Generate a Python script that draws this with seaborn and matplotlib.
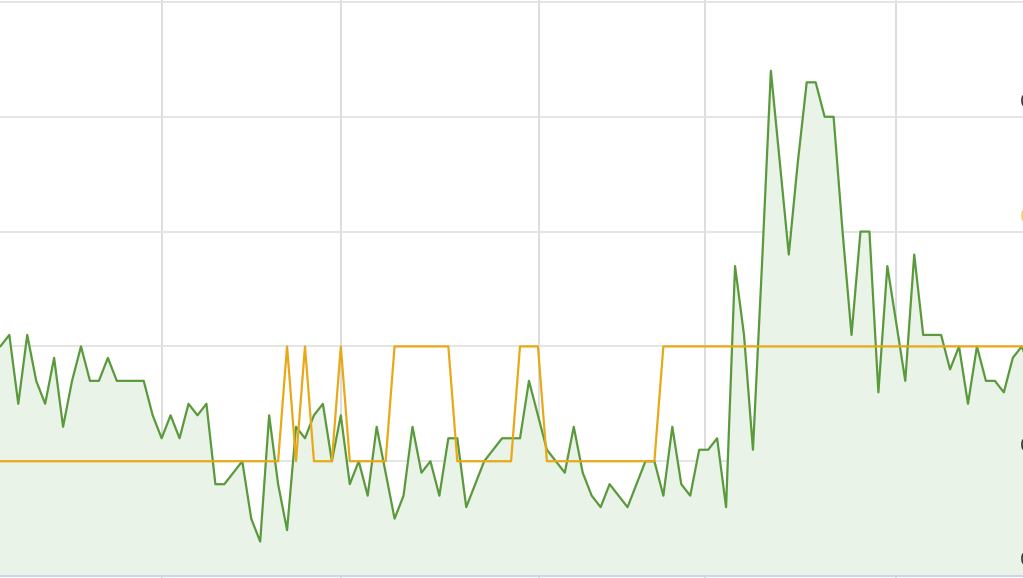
import numpy as np
import pandas as pd
import matplotlib
matplotlib.use("Agg")
import matplotlib.pyplot as plt
import seaborn as sns

# values (one point per trading day)
green_values = [20, 21, 15, 21, 17, 15, 19, 13, 17, 20,
                17, 17, 19, 17, 17, 17, 17, 14, 12, 14,
                12, 15, 14, 15, 8, 8, 9, 10, 5, 3,
                14, 8, 4, 13, 12, 14, 15, 10, 14, 8,
                10, 7, 13, 9, 5, 7, 13, 9, 10, 7,
                12, 12, 6, 8, 10, 11, 12, 12, 12, 17,
                14, 11, 10, 9, 13, 9, 7, 6, 8, 7,
                6, 8, 10, 10, 7, 13, 8, 7, 11, 11,
                12, 6, 27, 21, 11, 27, 44, 36, 28, 36,
                43, 43, 40, 40, 30, 21, 30, 30, 16, 27,
                22, 17, 28, 21, 21, 21, 18, 20, 15, 20,
                17, 17, 16, 19, 20, 18]
orange_values = ([10] * 32 + [20, 10, 20, 10, 10, 10, 20] + [10] * 5 + [20] * 7
                 + [10] * 7 + [20] * 3 + [10] * 13 + [20] * 42)
month_ticks = [18, 38, 60.15, 78.65, 100]
value_ticks = [0, 10, 20, 30, 40, 50]
edge_labels = ["0", "0", "0", "0"]
edge_label_values = [41.3, 31.3, 11.3, 1.4]
edge_label_colors = ["#3a3a3a", "#e8d36a", "#3a3a3a", "#3a3a3a"]

df = pd.DataFrame({"day": np.arange(len(green_values)),
                   "green": green_values,
                   "orange": orange_values})

sns.set_style("white")
fig = plt.figure(figsize=(10.23, 5.78), dpi=100)
ax = fig.add_axes([0, 0, 1, 1])

ax.fill_between(df["day"], df["green"], 0, color="#e9f3e7", zorder=1)
sns.lineplot(data=df, x="day", y="green", color="#5a9a3c", linewidth=1.6, ax=ax, zorder=3)
sns.lineplot(data=df, x="day", y="orange", color="#e8a918", linewidth=1.6, ax=ax, zorder=4)

ax.set_xlim(-0.04, 114.14)
ax.set_ylim(-0.17, 50.17)
ax.set_xticks(month_ticks)
ax.set_yticks(value_ticks)
ax.grid(True, axis="y", color="#e3e3e3", linewidth=1.3, zorder=0)
ax.grid(True, axis="x", color="#dadada", linewidth=1.3, zorder=0)
ax.set_axisbelow(True)
ax.tick_params(length=0, labelbottom=False, labelleft=False)
ax.set_xlabel("")
ax.set_ylabel("")
for side in ["top", "left", "right"]:
    ax.spines[side].set_visible(False)
ax.spines["bottom"].set_color("#ccd6eb")
ax.spines["bottom"].set_linewidth(1.5)
ax.spines["bottom"].set_position(("data", 0))

# right axis labels, mostly cut off by the edge of the picture (as in the reference)
for lab, val, col in zip(edge_labels, edge_label_values, edge_label_colors):
    ax.text(1020 / 1023, (val + 0.17) / 50.34, lab, transform=ax.transAxes,
            ha="left", va="center", fontsize=13, color=col, clip_on=False)

fig.savefig("out.png", dpi=100)
